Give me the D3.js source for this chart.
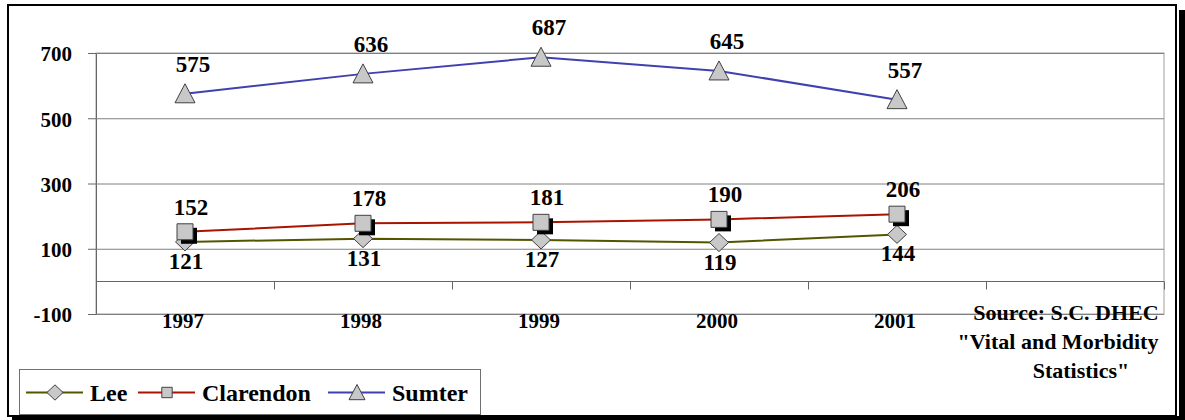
<!DOCTYPE html>
<html>
<head>
<meta charset="utf-8">
<script src="https://cdn.jsdelivr.net/npm/d3@7"></script>
<style>
  html, body { margin: 0; padding: 0; background: #fff; }
  svg { display: block; }
  svg text { font-family: 'Liberation Serif', 'DejaVu Serif', serif !important; font-weight: bold; fill: #000; }
</style>
</head>
<body>
<div id="chart"></div>
<script>
// categories (last slot is empty, as in the original sheet)
const categories = ['1997', '1998', '1999', '2000', '2001', ''];
const years = ['1997', '1998', '1999', '2000', '2001'];
const leeValues = [121, 131, 127, 119, 144];
const clarendonValues = [152, 178, 181, 190, 206];
const sumterValues = [575, 636, 687, 645, 557];
const yTicks = [-100, 100, 300, 500, 700];
const seriesNames = ['Lee', 'Clarendon', 'Sumter'];
const sourceLines = ['Source: S.C. DHEC', '"Vital and Morbidity', 'Statistics"'];

const W = 1185, H = 420;
const plot = { left: 96, right: 1164, top: 53, bottom: 314 };
const FONT = "'Liberation Serif', 'DejaVu Serif', serif";

const svg = d3.select('#chart').append('svg')
  .attr('width', W).attr('height', H);

// outer frame with shadow
svg.append('rect').attr('x', 1179).attr('y', 10).attr('width', 6).attr('height', 410).attr('fill', '#000');
svg.append('rect').attr('x', 12).attr('y', 416).attr('width', 1173).attr('height', 4).attr('fill', '#000');
svg.append('rect')
  .attr('x', 8).attr('y', 5).attr('width', 1168).attr('height', 411)
  .attr('fill', '#fff').attr('stroke', '#000').attr('stroke-width', 2);

const x = d3.scaleBand().domain(categories).range([plot.left, plot.right]).padding(0);
const y = d3.scaleLinear().domain([-100, 700]).range([plot.bottom, plot.top]);
const cx = d => x(d) + x.bandwidth() / 2;

// plot area border
svg.append('rect')
  .attr('x', plot.left).attr('y', plot.top)
  .attr('width', plot.right - plot.left).attr('height', plot.bottom - plot.top)
  .attr('fill', 'none').attr('stroke', '#a0a0a0').attr('stroke-width', 1);

// y axis with gridlines
const yAxis = svg.append('g')
  .attr('transform', `translate(${plot.left},0)`)
  .call(d3.axisLeft(y).tickValues(yTicks).tickSize(8).tickPadding(16).tickFormat(d => String(d)));
yAxis.attr('font-family', null);
yAxis.select('.domain').attr('stroke', '#666');
yAxis.selectAll('.tick line').attr('stroke', '#666');
yAxis.selectAll('.tick text')
  .attr('font-size', 21).attr('dy', '0.38em')
  .style('font-family', FONT).attr('font-weight', 'bold').attr('fill', '#000');

svg.append('g').selectAll('line')
  .data(yTicks)
  .join('line')
  .attr('x1', plot.left).attr('x2', plot.right)
  .attr('y1', d => y(d) + 0.5).attr('y2', d => y(d) + 0.5)
  .attr('stroke', '#808080').attr('stroke-width', 1);

// category axis, crossing at 0
const xAxis = svg.append('g')
  .attr('transform', `translate(0,${Math.round(y(0)) + 0.5})`);
xAxis.append('line')
  .attr('x1', plot.left).attr('x2', plot.right)
  .attr('stroke', '#666');
xAxis.selectAll('.tk')
  .data(categories.map(c => x(c)).concat([plot.right]).slice(1))
  .join('line')
  .attr('class', 'tk')
  .attr('x1', d => Math.round(d) + 0.5).attr('x2', d => Math.round(d) + 0.5)
  .attr('y1', 0).attr('y2', 8)
  .attr('stroke', '#666');

svg.append('g').selectAll('text')
  .data(years)
  .join('text')
  .attr('x', d => cx(d) - 2)
  .attr('y', 328)
  .attr('text-anchor', 'middle')
  .attr('font-size', 21)
  .style('font-family', FONT)
  .text(d => d);

const series = [
  { name: seriesNames[0], values: leeValues, color: '#555500', marker: 'diamond', labelDx: 1, labelDy: 27 },
  { name: seriesNames[1], values: clarendonValues, color: '#a81400', marker: 'square', labelDx: 6, labelDy: -17 },
  { name: seriesNames[2], values: sumterValues, color: '#4040b0', marker: 'triangle', labelDx: 8, labelDy: -22 }
];

function markerPath(type, s) {
  if (type === 'diamond') {
    const hw = 9.5 * s, hh = 9 * s;
    return `M0,${-hh}L${hw},0L0,${hh}L${-hw},0Z`;
  }
  if (type === 'triangle') {
    const hw = 10 * s;
    return `M0,${-10 * s}L${hw},${9 * s}L${-hw},${9 * s}Z`;
  }
  const h = 8 * s;
  return `M${-h},${-h}H${h}V${h}H${-h}Z`;
}

const line = d3.line()
  .x((d, i) => cx(years[i]))
  .y(d => y(d));

series.forEach(s => {
  svg.append('path')
    .datum(s.values)
    .attr('d', line)
    .attr('fill', 'none')
    .attr('stroke', s.color)
    .attr('stroke-width', 2);
});

series.forEach(s => {
  const g = svg.append('g');
  s.values.forEach((v, i) => {
    const px = cx(years[i]), py = y(v);
    if (s.marker === 'square') {
      g.append('path')
        .attr('d', markerPath('square', 1))
        .attr('transform', `translate(${px + 4},${py + 4})`)
        .attr('fill', '#000');
    }
    g.append('path')
      .attr('d', markerPath(s.marker, 1))
      .attr('transform', `translate(${px},${py})`)
      .attr('fill', '#c8c8c8')
      .attr('stroke', '#404040')
      .attr('stroke-width', 1);
  });
});

// data labels
series.forEach(s => {
  svg.append('g').selectAll('text')
    .data(s.values)
    .join('text')
    .attr('x', (d, i) => cx(years[i]) + s.labelDx)
    .attr('y', d => y(d) + s.labelDy)
    .attr('text-anchor', 'middle')
    .attr('font-size', 23)
    .style('font-family', FONT)
    .text(d => d);
});

// source note
const sourceX = [1066, 1058, 1081];
svg.append('g').selectAll('text')
  .data(sourceLines)
  .join('text')
  .attr('x', (d, i) => sourceX[i])
  .attr('y', (d, i) => 320 + i * 29)
  .attr('text-anchor', 'middle')
  .attr('font-size', 22)
  .style('font-family', FONT)
  .text(d => d);

// legend
const lg = svg.append('g');
lg.append('rect')
  .attr('x', 19.5).attr('y', 369.5).attr('width', 461).attr('height', 45)
  .attr('fill', '#fff').attr('stroke', '#707070').attr('stroke-width', 1);

const legendX = [26, 138, 328];
const legendTextX = [90, 202, 392];
series.forEach((s, i) => {
  const lx = legendX[i];
  lg.append('line')
    .attr('x1', lx).attr('x2', lx + 57)
    .attr('y1', 392.5).attr('y2', 392.5)
    .attr('stroke', s.color).attr('stroke-width', 2);
  lg.append('path')
    .attr('d', markerPath(s.marker, s.marker === 'square' ? 0.65 : (s.marker === 'triangle' ? 0.8 : 0.85)))
    .attr('transform', `translate(${lx + 29},392.5)`)
    .attr('fill', '#c8c8c8')
    .attr('stroke', '#404040')
    .attr('stroke-width', 1);
  lg.append('text')
    .attr('x', legendTextX[i])
    .attr('y', 401)
    .attr('font-size', 24)
    .style('font-family', FONT)
    .text(s.name);
});
</script>
</body>
</html>
